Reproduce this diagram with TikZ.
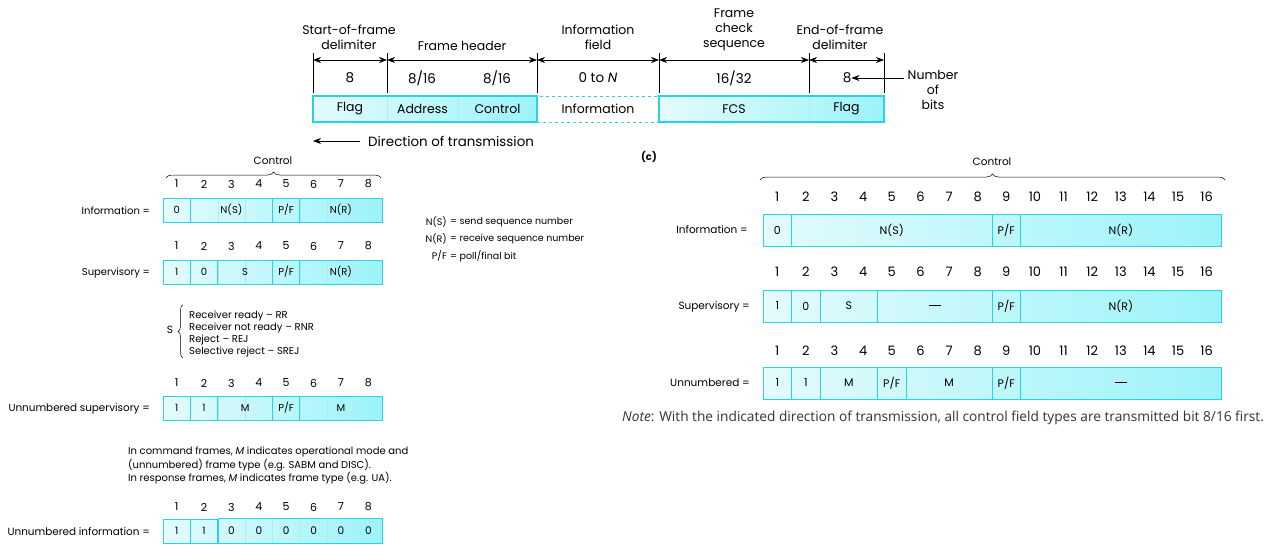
\documentclass[tikz,border=0pt]{standalone}
\usepackage{fontspec}
\setmainfont{Poppins}
\newfontfamily\notefont{Open Sans}
\usetikzlibrary{arrows.meta,decorations.pathreplacing}
\definecolor{cyb}{RGB}{40,212,228}
\definecolor{cyl}{RGB}{228,251,252}
\definecolor{cyd}{RGB}{156,243,249}
\definecolor{cyf}{RGB}{170,236,242}
\tikzset{
  tlab/.style={font=\fontsize{12.5}{15}\selectfont, inner sep=0, align=center},
  tnum/.style={font=\fontsize{13.5}{15}\selectfont, inner sep=0},
  tcell/.style={draw=cyf, line width=0.8pt, minimum height=26pt, inner sep=0, font=\fontsize{12.5}{15}\selectfont},
  dimarr/.style={{Stealth[length=8pt,width=6pt]}-{Stealth[length=8pt,width=6pt]}, line width=0.6pt},
  onearr/.style={-{Stealth[length=8pt,width=6pt]}, line width=0.6pt},
  vline/.style={line width=0.6pt},
  lnum/.style={font=\fontsize{11}{13}\selectfont, inner sep=0},
  llab/.style={font=\fontsize{10}{12}\selectfont, inner sep=0},
  ltxt/.style={font=\fontsize{10}{12}\selectfont, inner sep=0, anchor=west},
  lgd/.style={font=\fontsize{9.5}{12}\selectfont, inner sep=0},
  field/.style={draw=cyb, line width=0.8pt, inner sep=0, font=\fontsize{10}{12}\selectfont},
  rfield/.style={draw=cyb, line width=0.9pt, inner sep=0, font=\fontsize{11}{13}\selectfont},
  rnum/.style={font=\fontsize{13}{15}\selectfont, inner sep=0},
  rlab/.style={font=\fontsize{10.5}{12}\selectfont, inner sep=0, anchor=east},
  faint/.style={draw=cyf, line width=0.4pt},
  bracel/.style={decorate, decoration={brace, amplitude=6pt}, line width=0.5pt},
}
\newcommand\ldash{\rule[1.5pt]{12pt}{0.8pt}}
% #1 name, #2 x0, #3 bit width, #4 first bit, #5 last bit, #6 y centre, #7 height, #8 text, #9 style
\newcommand\bitfld[9]{\node[#9, minimum width={(#5-#4+1)*#3*1pt}, minimum height={#7*1pt}] (#1) at ({#2+(#4-1+#5)/2*#3}, #6) {#8};}
\begin{document}
\begin{tikzpicture}[x=1pt,y=-1pt]
\useasboundingbox (0,0) rectangle (1280,544);
% ================= top frame =================
\foreach \x [count=\i] in {313,387,537,659,809,884}{
  \coordinate (vt\i) at (\x,53);
  \coordinate (vb\i) at (\x,93);
  \coordinate (d\i) at (\x,60);
  \draw[vline] (vt\i) -- (vb\i);
}
\foreach \i/\j in {1/2,2/3,3/4,4/5,5/6}{\draw[dimarr] (d\i) -- (d\j);}
\node[tlab] (lsof) at (349,37) {Start-of-frame\\delimiter};
\node[tlab] (lhdr) at (462,46) {Frame header};
\node[tlab] (linf) at (598,37) {Information\\field};
\node[tlab] (lfcs) at (734,30) {Frame\\check\\sequence};
\node[tlab] (leof) at (840,37) {End-of-frame\\delimiter};
\node[tnum] (n1) at (350,78) {8};
\node[tnum] (n2) at (422,78) {8/16};
\node[tnum] (n3) at (497,78) {8/16};
\node[tnum] (n4) at (598,78) {0 to \textit{N}};
\node[tnum] (n5) at (734,78) {16/32};
\node[tnum] (n6) at (847,78) {8};
\node[tlab, anchor=north] (nbits) at (933,70) {Number\\of\\bits};
\coordinate (nbarr) at (904,78);
\draw[onearr] (nbarr) -- (n6.east);
\shade[left color=cyl, right color=cyd] (313,96) rectangle (537,122);
\shade[left color=cyl, right color=cyd] (659,96) rectangle (884,122);
\node[tcell, minimum width=74pt] (tflag) at (350,109) {Flag};
\node[tcell, minimum width=71pt] (taddr) at (422.5,109) {Address};
\node[tcell, minimum width=79pt] (tctrl) at (497.5,109) {Control};
\node[tcell, draw=cyb, dashed, minimum width=122pt] (tinfo) at (598,109) {Information};
\node[tcell, minimum width=150pt] (tfcs) at (734,109) {FCS};
\node[tcell, minimum width=75pt] (tflag2) at (846.5,109) {Flag};
\draw[cyb, line width=2pt] (tflag.north west) rectangle (tctrl.south east);
\draw[cyb, line width=2pt] (tfcs.north west) rectangle (tflag2.south east);
\node[tlab, anchor=west, font=\fontsize{13.4}{15}\selectfont] (dirtxt) at (368,141) {Direction of transmission};
\coordinate (dirtip) at (313,141);
\draw[onearr] ([xshift=-8pt]dirtxt.west) -- (dirtip);
% ================= left panel =================
\def\lx{163}\def\lw{27.375}
\node[llab, font=\fontsize{10.5}{12}\selectfont] (lctl) at (273,161) {Control};
\draw[bracel] (166,178) -- (381,178);
\foreach \yy/\r in {184/a,246/b,383/c,507/d}{
  \foreach \i in {1,...,8}{\node[lnum] (ln\r\i) at ({\lx+(\i-0.5)*\lw},\yy) {\i};}
}
\foreach \yc in {210,272,408,531}{
  \shade[left color=cyl, right color=cyd] (\lx,\yc-12) rectangle (\lx+8*\lw,\yc+12);
  \foreach \i in {1,...,7}{\draw[faint] ({\lx+\i*\lw},\yc-12) -- ({\lx+\i*\lw},\yc+12);}
}
% Information
\node[llab, anchor=east] (lIlab) at (150,211) {Information =};
\bitfld{lI1}{\lx}{\lw}{1}{1}{210}{24}{0}{field}
\bitfld{lI2}{\lx}{\lw}{2}{4}{210}{24}{N(S)}{field}
\bitfld{lI3}{\lx}{\lw}{5}{5}{210}{24}{P/F}{field}
\bitfld{lI4}{\lx}{\lw}{6}{8}{210}{24}{N(R)}{field}
% Supervisory
\node[llab, anchor=east] (lSlab) at (150,273) {Supervisory =};
\bitfld{lS1}{\lx}{\lw}{1}{1}{272}{24}{1}{field}
\bitfld{lS2}{\lx}{\lw}{2}{2}{272}{24}{0}{field}
\bitfld{lS3}{\lx}{\lw}{3}{4}{272}{24}{S}{field}
\bitfld{lS4}{\lx}{\lw}{5}{5}{272}{24}{P/F}{field}
\bitfld{lS5}{\lx}{\lw}{6}{8}{272}{24}{N(R)}{field}
% legend
\node[lgd, anchor=east] (lg1a) at (447,222) {N(S)};
\node[lgd, anchor=west] (lg1b) at (450,222) {= send sequence number};
\node[lgd, anchor=east] (lg2a) at (447,239) {N(R)};
\node[lgd, anchor=west] (lg2b) at (450,239) {= receive sequence number};
\node[lgd, anchor=east] (lg3a) at (447,256) {P/F};
\node[lgd, anchor=west] (lg3b) at (450,256) {= poll/final bit};
% S list
\node[llab, font=\fontsize{10.5}{12}\selectfont] (sS) at (170,330) {S};
\draw[decorate, decoration={brace, amplitude=5pt}, line width=0.5pt] (183,358) -- (183,305);
\node[ltxt] (s1) at (189,316) {Receiver ready – RR};
\node[ltxt] (s2) at (189,328) {Receiver not ready – RNR};
\node[ltxt] (s3) at (189,340) {Reject – REJ};
\node[ltxt] (s4) at (189,352) {Selective reject – SREJ};
% Unnumbered supervisory
\node[llab, anchor=east, font=\fontsize{10.4}{12}\selectfont] (lUlab) at (150,409) {Unnumbered supervisory =};
\bitfld{lU1}{\lx}{\lw}{1}{1}{408}{24}{1}{field}
\bitfld{lU2}{\lx}{\lw}{2}{2}{408}{24}{1}{field}
\bitfld{lU3}{\lx}{\lw}{3}{4}{408}{24}{M}{field}
\bitfld{lU4}{\lx}{\lw}{5}{5}{408}{24}{P/F}{field}
\bitfld{lU5}{\lx}{\lw}{6}{8}{408}{24}{M}{field}
% paragraph
\node[ltxt] (p1) at (128,452) {In command frames, \textit{M} indicates operational mode and};
\node[ltxt] (p2) at (128,465) {(unnumbered) frame type (e.g. SABM and DISC).};
\node[ltxt] (p3) at (128,478) {In response frames, \textit{M} indicates frame type (e.g. UA).};
% Unnumbered information
\node[llab, anchor=east, font=\fontsize{10.4}{12}\selectfont] (lNlab) at (150,532) {Unnumbered information =};
\bitfld{lN1}{\lx}{\lw}{1}{1}{531}{24}{1}{field}
\bitfld{lN2}{\lx}{\lw}{2}{2}{531}{24}{1}{field}
\foreach \i in {3,...,8}{\node[font=\fontsize{10.5}{12}\selectfont, inner sep=0] (lN0\i) at ({\lx+(\i-0.5)*\lw},531) {0};}
\draw[cyb, line width=0.8pt] (lN2.north east) rectangle (\lx+8*\lw,543);
% ================= right panel =================
\def\rx{763}\def\rw{28.625}
\node[font=\bfseries\fontsize{10}{12}\selectfont, inner sep=0, anchor=west] (cc) at (641,157) {(c)};
\node[rlab, anchor=center] (rctl) at (992,162) {Control};
\draw[bracel] (760,180) -- (1225,180);
\foreach \yy/\r in {197/a,272/b,351/c}{
  \foreach \i in {1,...,16}{\node[rnum] (rn\r\i) at ({\rx+(\i-0.5)*\rw},\yy) {\i};}
}
\foreach \yc in {230,306,383}{
  \shade[left color=cyl, right color=cyd] (\rx,\yc-16) rectangle (\rx+16*\rw,\yc+16);
}
% Information
\node[rlab] (rIlab) at (748,230) {Information =};
\bitfld{rI1}{\rx}{\rw}{1}{1}{230}{32}{0}{rfield}
\bitfld{rI2}{\rx}{\rw}{2}{8}{230}{32}{N(S)}{rfield}
\bitfld{rI3}{\rx}{\rw}{9}{9}{230}{32}{P/F}{rfield}
\bitfld{rI4}{\rx}{\rw}{10}{16}{230}{32}{N(R)}{rfield}
% Supervisory
\node[rlab] (rSlab) at (750,307) {Supervisory =};
\bitfld{rS1}{\rx}{\rw}{1}{1}{306}{32}{1}{rfield}
\bitfld{rS2}{\rx}{\rw}{2}{2}{306}{32}{0}{rfield}
\bitfld{rS3}{\rx}{\rw}{3}{4}{306}{32}{S}{rfield}
\bitfld{rS4}{\rx}{\rw}{5}{8}{306}{32}{\ldash}{rfield}
\bitfld{rS5}{\rx}{\rw}{9}{9}{306}{32}{P/F}{rfield}
\bitfld{rS6}{\rx}{\rw}{10}{16}{306}{32}{N(R)}{rfield}
% Unnumbered
\node[rlab] (rUlab) at (750,383) {Unnumbered =};
\bitfld{rU1}{\rx}{\rw}{1}{1}{383}{32}{1}{rfield}
\bitfld{rU2}{\rx}{\rw}{2}{2}{383}{32}{1}{rfield}
\bitfld{rU3}{\rx}{\rw}{3}{4}{383}{32}{M}{rfield}
\bitfld{rU4}{\rx}{\rw}{5}{5}{383}{32}{P/F}{rfield}
\bitfld{rU5}{\rx}{\rw}{6}{8}{383}{32}{M}{rfield}
\bitfld{rU6}{\rx}{\rw}{9}{9}{383}{32}{P/F}{rfield}
\bitfld{rU7}{\rx}{\rw}{10}{16}{383}{32}{\ldash}{rfield}
\node[font=\notefont\fontsize{13.7}{15}\selectfont, inner sep=0, anchor=west, text=black!80] (note) at (622,418) {\textit{Note}: With the indicated direction of transmission, all control field types are transmitted bit 8/16 first.};
\end{tikzpicture}
\end{document}
